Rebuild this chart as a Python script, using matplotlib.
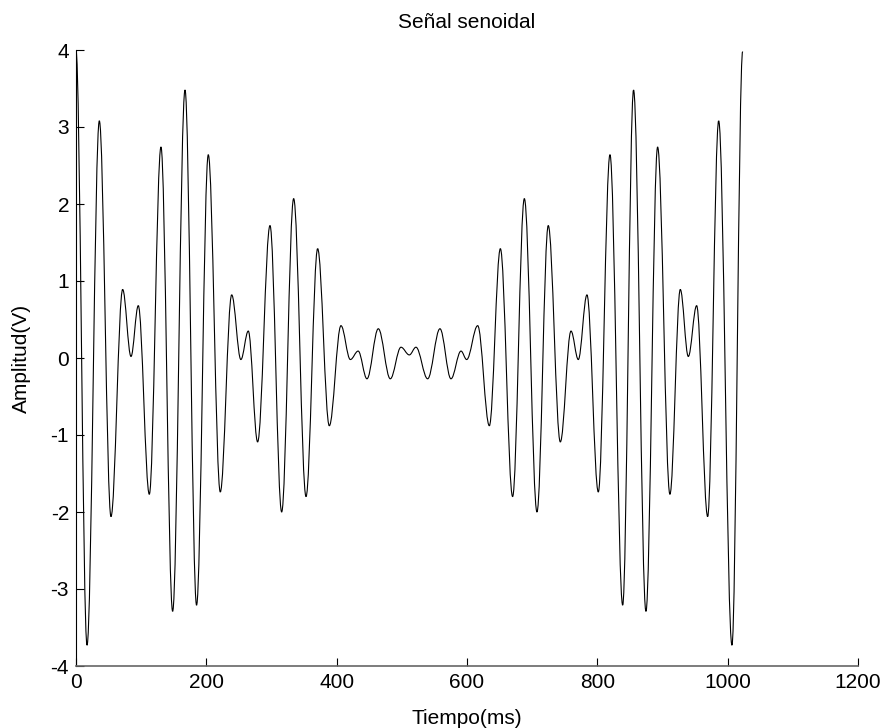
import matplotlib
matplotlib.use("Agg")
import matplotlib.pyplot as plt
from matplotlib.path import Path
from matplotlib.patches import PathPatch

plt.rcParams['font.family'] = ['Liberation Sans', 'DejaVu Sans']
plt.rcParams['axes.unicode_minus'] = False

# Extrema of the signal: time (ms) and amplitude (V)
tiempo_ms = [0, 16.9, 35.8, 53.7, 71.6, 84.4, 95.6, 112.5, 130.4, 148.3, 167.3,
             185, 203, 221.4, 238.9, 253, 264.4, 278.7, 297.7, 315.6, 334,
             353, 370.8, 388.7, 406.6, 421, 433, 446.5, 463.9, 482.3, 498.7,
             511.5, 521.7, 539.6, 558.5, 575.4, 590.8, 599.5, 616.4, 634.3, 651.2,
             670, 688, 707.4, 724.7, 743.2, 759.6, 770.8, 784.1, 801.5, 819.4,
             838.9, 855.6, 874.6, 892.5, 911.4, 927.3, 939.6, 952.4, 969.3, 986.2,
             1006.6, 1023]
amplitud_v = [4.0, -3.73, 3.08, -2.06, 0.89, 0.02, 0.68, -1.77, 2.74, -3.29, 3.48,
              -3.21, 2.64, -1.74, 0.82, -0.02, 0.35, -1.09, 1.72, -2.0, 2.07,
              -1.8, 1.42, -0.88, 0.42, -0.02, 0.09, -0.27, 0.38, -0.27, 0.14,
              0.04, 0.14, -0.27, 0.38, -0.27, 0.09, -0.02, 0.42, -0.88, 1.42,
              -1.8, 2.07, -2.0, 1.72, -1.09, 0.35, -0.02, 0.82, -1.74, 2.64,
              -3.21, 3.48, -3.29, 2.74, -1.77, 0.89, 0.02, 0.68, -2.06, 3.08,
              -3.73, 3.98]

xticks = [0, 200, 400, 600, 800, 1000, 1200]
yticks = [-4, -3, -2, -1, 0, 1, 2, 3, 4]

W, H = 887, 728
fig = plt.figure(figsize=(W / 100, H / 100), dpi=100)
ax = fig.add_axes([76 / W, (H - 666) / H, 782 / W, 616 / H])

# Smooth trace through the read extrema (horizontal tangent at each extremum,
# drawn as cubic Bezier segments by matplotlib's path renderer)
k = 0.363
verts = [(tiempo_ms[0], amplitud_v[0])]
codes = [Path.MOVETO]
for i in range(1, len(tiempo_ms)):
    x0, y0 = tiempo_ms[i - 1], amplitud_v[i - 1]
    x1, y1 = tiempo_ms[i], amplitud_v[i]
    dx = x1 - x0
    verts += [(x0 + k * dx, y0), (x1 - k * dx, y1), (x1, y1)]
    codes += [Path.CURVE4, Path.CURVE4, Path.CURVE4]
trace = PathPatch(Path(verts, codes), facecolor='none', edgecolor='black',
                  linewidth=0.8, transform=ax.transData)
ax.add_patch(trace)

ax.set_xlim(0, 1200)
ax.set_ylim(-4, 4)
ax.set_xticks(xticks)
ax.set_yticks(yticks)
ax.set_xticklabels([str(v) for v in xticks])
ax.set_yticklabels([str(v) for v in yticks])

ax.spines['top'].set_visible(False)
ax.spines['right'].set_visible(False)
ax.spines['left'].set_color('black')
ax.spines['bottom'].set_color('#666666')
ax.spines['left'].set_linewidth(0.8)
ax.spines['bottom'].set_linewidth(1.2)
ax.tick_params(direction='in', length=6, width=0.8, labelsize=15, colors='black', pad=5)

ax.set_title('Señal senoidal', fontsize=15, pad=15.5)
ax.set_xlabel('Tiempo(ms)', fontsize=15, labelpad=12.5)
ax.set_ylabel('Amplitud(V)', fontsize=15, labelpad=14)

fig.savefig('out.png', dpi=100)
